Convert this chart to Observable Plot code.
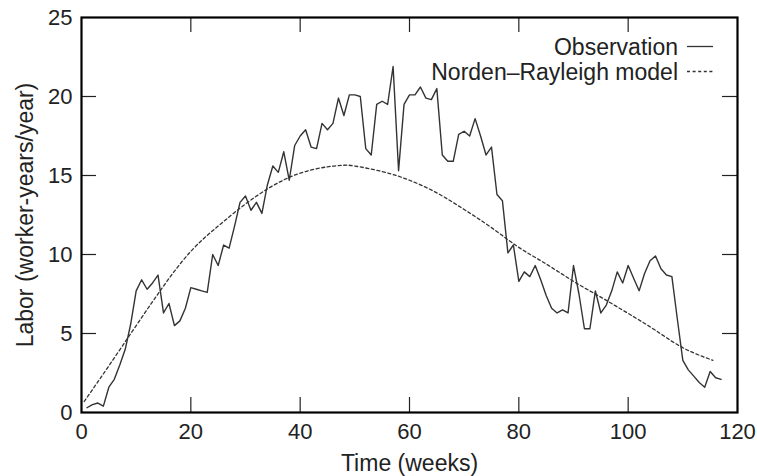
<!DOCTYPE html>
<html><head><meta charset="utf-8">
<script src="https://cdn.jsdelivr.net/npm/d3@7"></script>
<script src="https://cdn.jsdelivr.net/npm/@observablehq/plot@0.6"></script>
<style>
body{margin:0;background:#fff}
svg{font-family:"Liberation Sans",Arial,Helvetica,sans-serif}
</style>
</head><body><div id="chart"></div>
<script>
// Observation (weekly)
const obsWeeks = [1,2,3,4,5,6,7,8,9,10,11,12,13,14,15,16,17,18,19,20,
  21,22,23,24,25,26,27,28,29,30,31,32,33,34,35,36,37,38,39,40,
  41,42,43,44,45,46,47,48,49,50,51,52,53,54,55,56,57,58,59,60,
  61,62,63,64,65,66,67,68,69,70,71,72,73,74,75,76,77,78,79,80,
  81,82,83,84,85,86,87,88,89,90,91,92,93,94,95,96,97,98,99,100,
  101,102,103,104,105,106,107,108,109,110,111,112,113,114,115,116,117];
const obsLabor = [0.3,0.5,0.6,0.4,1.6,2.1,3.0,4.0,5.6,7.7,8.4,7.8,8.2,8.7,6.3,6.9,5.5,5.8,6.6,7.9,
  7.8,7.7,7.6,10.0,9.3,10.6,10.4,11.8,13.3,13.7,12.8,13.3,12.6,14.4,15.6,15.2,16.5,14.7,16.9,17.5,
  17.9,16.8,16.7,18.3,17.9,18.3,19.9,18.8,20.1,20.1,20.0,16.7,16.3,19.5,19.7,19.5,21.9,15.3,19.5,20.1,
  20.1,20.6,19.9,19.8,20.5,16.3,15.9,15.9,17.6,17.8,17.5,18.6,17.5,16.3,16.8,13.8,13.4,10.1,10.6,8.3,
  8.9,8.6,9.3,8.4,7.4,6.6,6.3,6.5,6.3,9.3,7.5,5.3,5.3,7.7,6.3,6.8,7.7,8.9,8.2,9.3,
  8.5,7.7,8.8,9.6,9.9,9.1,8.7,8.6,5.9,3.3,2.7,2.3,1.9,1.6,2.6,2.2,2.1];
// Norden–Rayleigh model
const modelWeeks = [0.5,5,10,15,20,25,30,35,40,45,48,50,55,60,65,70,75,80,85,90,95,100,105,110,115.5];
const modelLabor = [0.7,2.95,5.5,8.0,10.2,11.8,13.2,14.35,15.15,15.55,15.65,15.6,15.25,14.7,13.9,12.85,11.7,10.45,9.4,8.3,7.3,6.27,5.2,4.1,3.3];

const xTicks = [0,20,40,60,80,100,120];
const yTicks = [0,5,10,15,20,25];
const xLabel = "Time (weeks)";
const yLabel = "Labor (worker-years/year)";
const legendLabels = ["Observation","Norden\u2013Rayleigh model"];

const obs = obsWeeks.map((w,i)=>({week:w, labor:obsLabor[i]}));
const model = modelWeeks.map((w,i)=>({week:w, labor:modelLabor[i]}));
const innerX = xTicks.slice(1,-1);
const innerY = yTicks.slice(1,-1);

const W = 757, H = 476, mL = 81, mR = 20, mT = 17, mB = 64;
const pw = W - mL - mR, ph = H - mT - mB, tick = 15;
const ink = "#222";

const plot = Plot.plot({
  width: W, height: H,
  marginLeft: mL, marginRight: mR, marginTop: mT, marginBottom: mB,
  style: {fontFamily: '"Liberation Sans",Arial,Helvetica,sans-serif', fontSize: "22px", color: ink, background: "white", overflow: "visible"},
  x: {domain: [0,120], axis: null},
  y: {domain: [0,25], axis: null},
  marks: [
    Plot.gridX(innerX, {insetTop: ph - tick, stroke: ink, strokeOpacity: 1, strokeWidth: 1.2}),
    Plot.gridX(innerX, {insetBottom: ph - tick, stroke: ink, strokeOpacity: 1, strokeWidth: 1.2}),
    Plot.gridY(innerY, {insetRight: pw - tick, stroke: ink, strokeOpacity: 1, strokeWidth: 1.2}),
    Plot.gridY(innerY, {insetLeft: pw - tick, stroke: ink, strokeOpacity: 1, strokeWidth: 1.2}),
    Plot.line(model, {x: "week", y: "labor", stroke: "#333", strokeWidth: 1.3, strokeDasharray: "3,2.6", curve: "natural"}),
    Plot.line(obs, {x: "week", y: "labor", stroke: "#333", strokeWidth: 1.4}),
    Plot.axisX(xTicks, {tickSize: 0, tickPadding: 11, fontSize: 22, label: null, fill: ink}),
    Plot.axisY(yTicks, {tickSize: 0, tickPadding: 9, fontSize: 22, label: null, fill: ink}),
    Plot.text([xLabel], {frameAnchor: "bottom", dy: 51, textAnchor: "middle", lineAnchor: "middle", fontSize: 23, fill: ink}),
    Plot.text([yLabel], {frameAnchor: "left", rotate: -90, dx: -56, textAnchor: "middle", lineAnchor: "middle", fontSize: 23, fill: ink}),
    Plot.frame({stroke: "black", strokeWidth: 2.2})
  ]
});
document.getElementById("chart").appendChild(plot);

// legend inside the frame, top-right
const svg = d3.select(plot);
const lg = svg.append("g").attr("aria-label", "legend");
const rows = [
  {label: legendLabels[0], dash: null, y: 46.5},
  {label: legendLabels[1], dash: "3,2.6", y: 71.5}
];
rows.forEach(r => {
  lg.append("text").attr("x", 678).attr("y", r.y).attr("dy", "0.35em")
    .attr("text-anchor", "end").attr("font-size", 23).attr("fill", ink).text(r.label);
  lg.append("line").attr("x1", 687).attr("x2", 713).attr("y1", r.y).attr("y2", r.y)
    .attr("stroke", "#333").attr("stroke-width", 1.3).attr("stroke-dasharray", r.dash);
});
</script>
</body></html>
